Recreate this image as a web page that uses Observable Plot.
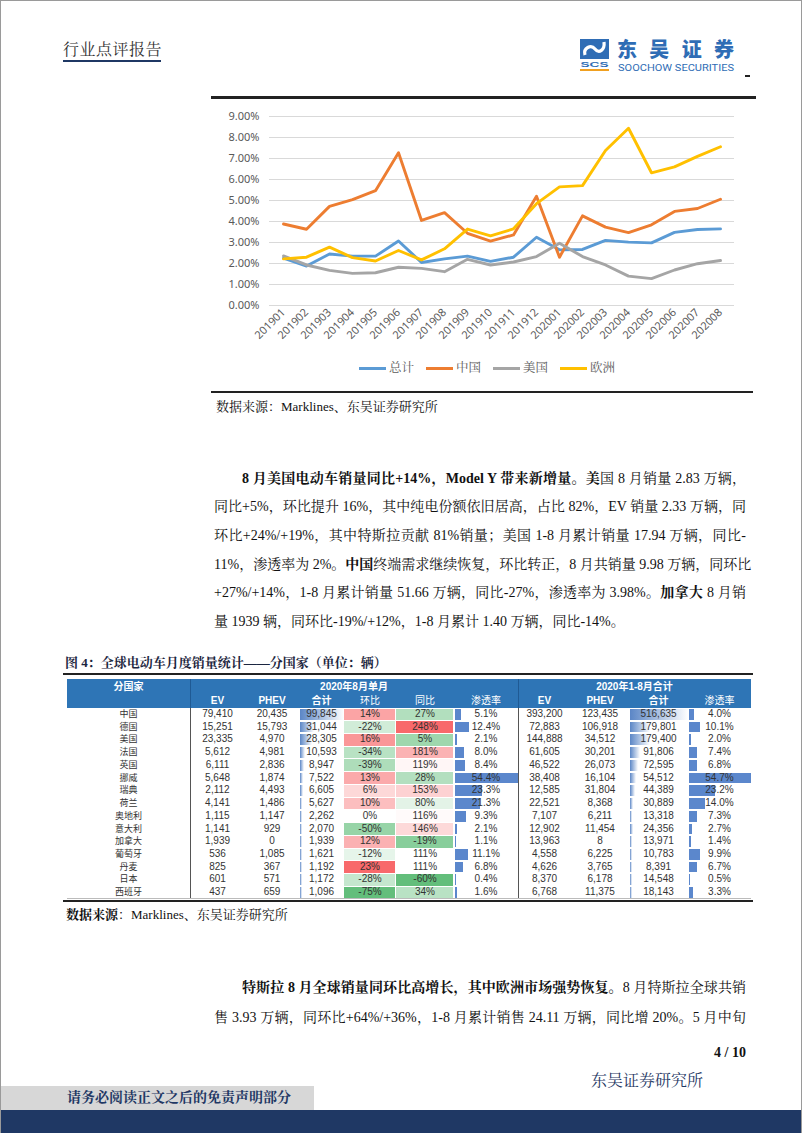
<!DOCTYPE html>
<html><head><meta charset="utf-8">
<script src="https://cdn.jsdelivr.net/npm/d3@7"></script>
<script src="https://cdn.jsdelivr.net/npm/@observablehq/plot@0.6"></script>
<style>
html,body{margin:0;padding:0;background:#fff;}
#page{position:relative;width:802px;height:1133px;overflow:hidden;box-sizing:border-box;border-left:1px solid #9a9a9a;border-right:1px solid #9a9a9a;border-top:1px solid #9a9a9a;background:#fff;}
.abs{position:absolute;}
.serif{font-family:"Liberation Serif","Noto Serif CJK SC","Noto Sans CJK SC",serif;}
.pl{position:absolute;font-size:14px;line-height:20px;height:20px;white-space:nowrap;color:#111;text-align:justify;text-align-last:justify;}
.pl b{font-weight:700;}
.cell{position:absolute;text-align:center;white-space:nowrap;font-family:"Liberation Sans","Noto Sans CJK SC",sans-serif;font-size:10px;color:#333;}
.cn{font-family:"Noto Sans CJK SC","Noto Sans",sans-serif;font-size:9px;}
.hd{position:absolute;text-align:center;white-space:nowrap;font-family:"Liberation Sans","Noto Sans CJK SC",sans-serif;color:#fff;font-size:10px;}
</style></head>
<body><div id="page">

<!-- header -->
<div class="abs serif" style="left:62px;top:39px;font-size:16px;line-height:20px;color:#333;letter-spacing:0.5px;">行业点评报告</div>
<div class="abs" style="left:62px;top:59px;width:98px;height:1.5px;background:#1F3864;"></div>
<svg class="abs" style="left:576px;top:25px;" width="175" height="55" viewBox="0 0 175 55">
  <g transform="translate(0,10)">
  <rect x="3" y="3" width="29" height="20" fill="#2F6DB5"/>
  <path d="M8 19 C 6 12, 14 8, 18 13 S 28 14, 27 6" stroke="#fff" stroke-width="3.2" fill="none"/>
  <text x="17.5" y="31" text-anchor="middle" font-family="Liberation Sans, sans-serif" font-weight="700" font-size="8" fill="#2F6DB5" textLength="28" lengthAdjust="spacingAndGlyphs">SCS</text>
  <rect x="3" y="33" width="29" height="2" fill="#F0A020"/>
  <text x="40" y="21" font-family="Noto Sans CJK SC, sans-serif" font-weight="900" font-size="20" fill="#2F6DB5" textLength="117" lengthAdjust="spacing">东吴证券</text>
  <text x="41" y="35" font-family="Roboto, Liberation Sans, sans-serif" font-size="9.5" fill="#2F6DB5" textLength="116" lengthAdjust="spacingAndGlyphs">SOOCHOW SECURITIES</text>
  </g>
</svg>
<div class="abs" style="left:744px;top:74px;width:5px;height:1.5px;background:#222;"></div>
<div class="abs" style="left:210px;top:95px;width:545px;height:2.5px;background:#222;"></div>

<!-- chart -->
<div id="chart" class="abs" style="left:200px;top:100px;"></div>
<div id="legend" class="abs serif" style="left:358px;top:359px;display:flex;gap:12px;font-size:12.5px;color:#595959;line-height:16px;"></div>
<div class="abs" style="left:210px;top:390px;width:542px;height:2px;background:#222;"></div>
<div class="abs serif" style="left:215px;top:397px;font-size:13px;line-height:17px;color:#111;">数据来源：Marklines、东吴证券研究所</div>

<!-- paragraph 1 -->
<div class="pl serif" style="left:241px;top:468px;width:504px;"><b>8 月美国电动车销量同比+14%，Model Y 带来新增量。美</b>国 8 月销量 2.83 万辆，</div>
<div class="pl serif" style="left:213px;top:496px;width:532px;">同比+5%，环比提升 16%，其中纯电份额依旧居高，占比 82%，EV 销量 2.33 万辆，同</div>
<div class="pl serif" style="left:213px;top:525px;width:532px;">环比+24%/+19%，其中特斯拉贡献 81%销量；美国 1-8 月累计销量 17.94 万辆，同比-</div>
<div class="pl serif" style="left:213px;top:554px;width:532px;">11%，渗透率为 2%。<b>中国</b>终端需求继续恢复，环比转正，8 月共销量 9.98 万辆，同环比</div>
<div class="pl serif" style="left:213px;top:582px;width:532px;">+27%/+14%，1-8 月累计销量 51.66 万辆，同比-27%，渗透率为 3.98%。<b>加拿大</b> 8 月销</div>
<div class="pl serif" style="left:213px;top:611px;text-align:left;text-align-last:left;">量 1939 辆，同环比-19%/+12%，1-8 月累计 1.40 万辆，同比-14%。</div>

<!-- table title -->
<div class="abs serif" style="left:64px;top:653px;font-size:13px;line-height:17px;font-weight:700;color:#1c2640;">图 4：全球电动车月度销量统计——分国家（单位：辆）</div>
<div class="abs" style="left:62px;top:672px;width:690px;height:1.5px;background:#222;"></div>
<div id="table" class="abs" style="left:0;top:0;width:802px;height:1133px;"></div>
<div class="abs" style="left:62px;top:899px;width:690px;height:2px;background:#222;"></div>
<div class="abs serif" style="left:65px;top:905px;font-size:13px;line-height:17px;color:#111;"><b>数据来源</b>：Marklines、东吴证券研究所</div>

<!-- paragraph 2 -->
<div class="pl serif" style="left:241px;top:977px;width:504px;"><b>特斯拉 8 月全球销量同环比高增长，其中欧洲市场强势恢复。</b>8 月特斯拉全球共销</div>
<div class="pl serif" style="left:213px;top:1007px;width:532px;">售 3.93 万辆，同环比+64%/+36%，1-8 月累计销售 24.11 万辆，同比增 20%。5 月中旬</div>

<!-- footer -->
<div class="abs serif" style="left:600px;top:1043px;width:145px;text-align:right;font-size:14px;line-height:18px;font-weight:700;color:#111;">4 / 10</div>
<div class="abs serif" style="left:590px;top:1069px;font-size:16px;line-height:22px;color:#1F3864;">东吴证券研究所</div>
<div class="abs" style="left:0;top:1085px;width:313px;height:24px;background:#d7d7d7;"></div>
<div class="abs serif" style="left:66px;top:1087px;font-size:14px;line-height:20px;font-weight:700;color:#1F3864;">请务必阅读正文之后的免责声明部分</div>
<div class="abs" style="left:0;top:1109px;width:802px;height:24px;background:#1F3864;"></div>
</div>

<script>
// ---------------- chart data ----------------
const months = ["201901","201902","201903","201904","201905","201906","201907","201908","201909","201910","201911","201912","202001","202002","202003","202004","202005","202006","202007","202008"];
const seriesNames = ["总计","中国","美国","欧洲"];
const seriesColors = ["#5B9BD5","#ED7D31","#A5A5A5","#FFC000"];
const total  = [2.25,1.88,2.45,2.35,2.35,3.07,2.05,2.22,2.35,2.10,2.30,3.25,2.65,2.67,3.10,3.02,2.98,3.48,3.62,3.65];
const china  = [3.88,3.63,4.72,5.04,5.47,7.27,4.05,4.42,3.44,3.07,3.36,5.20,2.30,4.27,3.73,3.47,3.84,4.48,4.62,5.06];
const usa    = [2.36,1.93,1.67,1.53,1.56,1.82,1.77,1.61,2.20,1.93,2.07,2.33,2.97,2.33,1.93,1.40,1.28,1.69,1.99,2.14];
const europe = [2.22,2.30,2.78,2.28,2.12,2.62,2.17,2.70,3.64,3.32,3.65,4.85,5.65,5.71,7.38,8.44,6.32,6.60,7.10,7.56];
const yTicks = [0,1,2,3,4,5,6,7,8,9];

// ---------------- table data ----------------
const countries = ["中国","德国","美国","法国","英国","挪威","瑞典","荷兰","奥地利","意大利","加拿大","葡萄牙","丹麦","日本","西班牙"];
const augEV    = [79410,15251,23335,5612,6111,5648,2112,4141,1115,1141,1939,536,825,601,437];
const augPHEV  = [20435,15793,4970,4981,2836,1874,4493,1486,1147,929,0,1085,367,571,659];
const augTotal = [99845,31044,28305,10593,8947,7522,6605,5627,2262,2070,1939,1621,1192,1172,1096];
const augMoM   = [14,-22,16,-34,-39,13,6,10,0,-50,12,-12,23,-28,-75];
const augYoY   = [27,248,5,181,119,28,153,80,116,146,-19,111,111,-60,34];
const augPen   = [5.1,12.4,2.1,8.0,8.4,54.4,23.3,21.3,9.3,2.1,1.1,11.1,6.8,0.4,1.6];
const ytdEV    = [393200,72883,144888,61605,46522,38408,12585,22521,7107,12902,13963,4558,4626,8370,6768];
const ytdPHEV  = [123435,106918,34512,30201,26073,16104,31804,8368,6211,11454,8,6225,3765,6178,11375];
const ytdTotal = [516635,179801,179400,91806,72595,54512,44389,30889,13318,24356,13971,10783,8391,14548,18143];
const ytdPen   = [4.0,10.1,2.0,7.4,6.8,54.7,23.2,14.0,7.3,2.7,1.4,9.9,6.7,0.5,3.3];
const headerGroups = ["分国家","2020年8月单月","2020年1-8月合计"];
const subHeaders = ["EV","PHEV","合计","环比","同比","渗透率","EV","PHEV","合计","渗透率"];

// ---------------- line chart ----------------
const seriesValues = [total, china, usa, europe];
const rows = [];
seriesNames.forEach((s, i) => months.forEach((m, j) => rows.push({series: s, month: m, value: seriesValues[i][j]})));

const chart = Plot.plot({
  width: 545, height: 262,
  marginLeft: 68, marginRight: 12, marginTop: 15, marginBottom: 58,
  style: {fontFamily: "'Noto Sans','Open Sans',sans-serif", fontSize: "11px", color: "#595959", background: "transparent", overflow: "visible"},
  x: {type: "point", domain: months, padding: 0.5, label: null},
  y: {domain: [0, 9], label: null},
  color: {domain: seriesNames, range: seriesColors},
  marks: [
    Plot.gridY(yTicks, {stroke: "#D9D9D9", strokeOpacity: 1, strokeWidth: 1}),
    Plot.axisY(yTicks, {tickSize: 0, tickPadding: 10, tickFormat: d => d.toFixed(2) + "%", fill: "#595959", label: null}),
    Plot.axisX(months, {tickSize: 0, tickPadding: 5, tickRotate: -45, fill: "#595959", label: null}),
    Plot.line(rows, {x: "month", y: "value", z: "series", stroke: "series", strokeWidth: 2.9, strokeLinejoin: "round", strokeLinecap: "round"})
  ]
});
document.getElementById("chart").appendChild(chart);

// legend
const lg = document.getElementById("legend");
seriesNames.forEach((s, i) => {
  const it = document.createElement("div");
  it.style.cssText = "display:flex;align-items:center;gap:3px;";
  it.innerHTML = `<span style="display:inline-block;width:27px;height:3px;background:${seriesColors[i]};"></span><span>${s}</span>`;
  lg.appendChild(it);
});

// ---------------- table ----------------
const tbl = document.getElementById("table");
const colW = [123,55,54,45,52,58,64,53,58,59,63];
const x0 = 66, headTop = 678, headMid = 693, bodyTop = 707, rowH = 12.73;
const colX = [];
colW.reduce((acc, w) => { colX.push(acc); return acc + w; }, x0);
const tableRight = colX[colX.length - 1] + colW[colW.length - 1];

function add(html, css, cls) {
  const d = document.createElement("div");
  d.className = cls || "";
  d.style.cssText = css;
  d.innerHTML = html;
  tbl.appendChild(d);
  return d;
}
add("", `position:absolute;left:${x0}px;top:${headTop}px;width:${tableRight - x0}px;height:${bodyTop - headTop}px;background:#2E75B6;`);
add(headerGroups[0], `left:${colX[0]}px;top:${headTop}px;width:${colW[0]}px;line-height:15px;font-weight:700;`, "hd");
add(headerGroups[1], `left:${colX[1]}px;top:${headTop}px;width:${colX[7] - colX[1]}px;line-height:15px;font-weight:700;`, "hd");
add(headerGroups[2], `left:${colX[7]}px;top:${headTop}px;width:${tableRight - colX[7]}px;line-height:15px;font-weight:700;`, "hd");
subHeaders.forEach((h, i) => {
  const bold = (h === "EV" || h === "PHEV" || h === "合计");
  add(h, `left:${colX[i + 1]}px;top:${headMid}px;width:${colW[i + 1]}px;line-height:14px;font-weight:${bold ? 700 : 400};`, "hd");
});

const fmt = d3.format(",");
function excel3(values) {
  return d3.scaleLinear().domain([d3.min(values), d3.median(values), d3.max(values)])
    .range(["#63BE7B", "#FFFFFF", "#F8696B"]).interpolate(d3.interpolateRgb).clamp(true);
}
const momColor = excel3(augMoM), yoyColor = excel3(augYoY);
const augTotW = d3.scaleLinear().domain([0, d3.max(augTotal)]).range([0, colW[3] - 1]);
const ytdTotW = d3.scaleLinear().domain([0, d3.max(ytdTotal)]).range([0, colW[9] - 1]);
const augPenW = d3.scaleLinear().domain([0, d3.max(augPen)]).range([0, colW[6] - 1]);
const ytdPenW = d3.scaleLinear().domain([0, d3.max(ytdPen)]).range([0, colW[10] - 1]);

countries.forEach((c, r) => {
  const top = bodyTop + r * rowH;
  const cellCss = (ci) => `left:${colX[ci]}px;top:${top}px;width:${colW[ci]}px;height:${rowH}px;line-height:${rowH}px;`;
  add("", `position:absolute;left:${colX[4]}px;top:${top + 0.5}px;width:${colW[4] - 1}px;height:${rowH - 1}px;background:${momColor(augMoM[r])};`);
  add("", `position:absolute;left:${colX[5]}px;top:${top + 0.5}px;width:${colW[5] - 1}px;height:${rowH - 1}px;background:${yoyColor(augYoY[r])};`);
  add("", `position:absolute;left:${colX[3] + 1}px;top:${top + 1}px;width:${Math.max(1.5, augTotW(augTotal[r]))}px;height:${rowH - 2}px;background:linear-gradient(to right,#5B86C6,#ffffff);`);
  add("", `position:absolute;left:${colX[9] + 1}px;top:${top + 1}px;width:${Math.max(1.5, ytdTotW(ytdTotal[r]))}px;height:${rowH - 2}px;background:linear-gradient(to right,#5B86C6,#ffffff);`);
  add("", `position:absolute;left:${colX[6] + 1}px;top:${top + 1}px;width:${Math.max(1, augPenW(augPen[r]))}px;height:${rowH - 2}px;background:#5B87CC;`);
  add("", `position:absolute;left:${colX[10] + 1}px;top:${top + 1}px;width:${Math.max(1, ytdPenW(ytdPen[r]))}px;height:${rowH - 2}px;background:#5B87CC;`);
  add(c, cellCss(0), "cell cn");
  add(fmt(augEV[r]), cellCss(1), "cell");
  add(fmt(augPHEV[r]), cellCss(2), "cell");
  add(fmt(augTotal[r]), cellCss(3), "cell");
  add(augMoM[r] + "%", cellCss(4), "cell");
  add(augYoY[r] + "%", cellCss(5), "cell");
  add(augPen[r].toFixed(1) + "%", cellCss(6), "cell");
  add(fmt(ytdEV[r]), cellCss(7), "cell");
  add(fmt(ytdPHEV[r]), cellCss(8), "cell");
  add(fmt(ytdTotal[r]), cellCss(9), "cell");
  add(ytdPen[r].toFixed(1) + "%", cellCss(10), "cell");
});
const bodyBottom = bodyTop + countries.length * rowH;
[colX[1], colX[7]].forEach(x => {
  add("", `position:absolute;left:${x}px;top:${headTop}px;width:1px;height:${bodyTop - headTop}px;background:#1f5a94;`);
  add("", `position:absolute;left:${x}px;top:${bodyTop}px;width:1px;height:${bodyBottom - bodyTop}px;background:#555;`);
});
add("", `position:absolute;left:${x0}px;top:${bodyBottom - 1}px;width:${tableRight - x0}px;height:1px;background:#bbb;`);
</script>
</body></html>
